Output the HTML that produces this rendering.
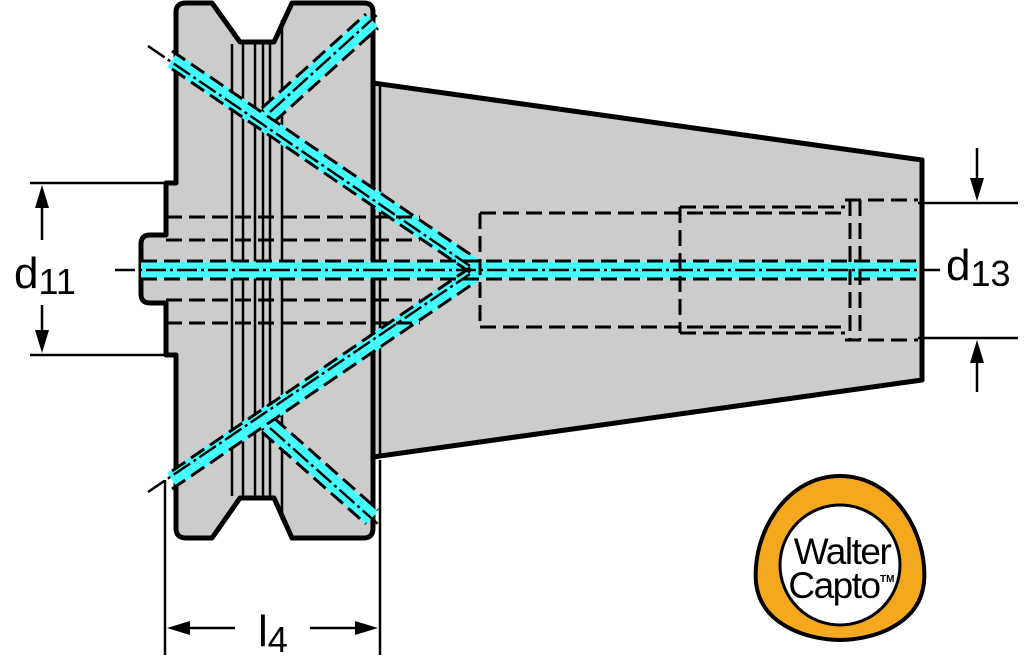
<!DOCTYPE html>
<html><head><style>body{margin:0;background:#fff}svg{display:block}</style></head><body>
<svg width="1024" height="666" viewBox="0 0 1024 666" xmlns="http://www.w3.org/2000/svg" font-family="Liberation Sans, sans-serif">
<path d="M373 83 L922 160 L922 380 L373 457 Z" fill="#cccccc" stroke="#000" stroke-width="5" stroke-linejoin="round"/>
<path d="M186 3 L212 3 L240 42 L274 42 L292 3 L364 3 Q373 3 373 12 L373 528 Q373 538 364 538 L292 538 L274 498 L240 498 L212 538 L186 538 Q176 538 176 528 L176 355 L166 355 L166 303 L150 303 Q141 303 141 294 L141 244 Q141 235 150 235 L166 235 L166 183 L176 183 L176 12 Q176 3 186 3 Z" fill="#cccccc" stroke="#000" stroke-width="5" stroke-linejoin="round"/>
<g stroke="#000" stroke-width="2.5">
<line x1="232" y1="44" x2="232" y2="496"/><line x1="243" y1="44" x2="243" y2="496"/>
<line x1="255" y1="44" x2="255" y2="496"/><line x1="263" y1="44" x2="263" y2="496"/>
<line x1="270" y1="44" x2="270" y2="496"/><line x1="282" y1="20" x2="282" y2="520"/>
<line x1="380" y1="86" x2="380" y2="455"/>
</g>
<g stroke="#44ffff" stroke-width="17" stroke-linecap="butt">
<line x1="172" y1="60" x2="474" y2="266"/><line x1="172" y1="480" x2="474" y2="274"/>
<line x1="268" y1="115" x2="372" y2="20"/><line x1="268" y1="425" x2="372" y2="518"/>
<line x1="141" y1="270" x2="918" y2="270"/>
</g>
<g stroke="#000" stroke-width="3" stroke-dasharray="16 7" fill="none">
<line x1="172" y1="51" x2="474" y2="257"/><line x1="172" y1="69" x2="474" y2="275"/>
<line x1="172" y1="471" x2="474" y2="265"/><line x1="172" y1="489" x2="474" y2="283"/>
<line x1="262" y1="108" x2="366" y2="14"/><line x1="274" y1="122" x2="378" y2="28"/>
<line x1="262" y1="432" x2="366" y2="524"/><line x1="274" y1="418" x2="378" y2="510"/>
<line x1="141" y1="261" x2="918" y2="261"/><line x1="141" y1="279" x2="918" y2="279"/>
<line x1="166" y1="217" x2="420" y2="217"/><line x1="166" y1="240" x2="420" y2="240"/>
<line x1="166" y1="300" x2="420" y2="300"/><line x1="166" y1="323" x2="420" y2="323"/>
<path d="M480 213 L845 213 M480 327 L845 327 M480 213 L480 327 M680 207 L845 207 M680 333 L845 333 M680 207 L680 333 M845 200 L918 200 M845 340 L918 340 M850 200 L850 340 M860 200 L860 340"/>
</g>
<g stroke="#000" stroke-width="2.5" stroke-dasharray="20 4 3 4" fill="none">
<line x1="148" y1="46" x2="470" y2="266"/><line x1="148" y1="492" x2="470" y2="274"/>
<line x1="270" y1="112" x2="378" y2="14"/><line x1="270" y1="428" x2="378" y2="524"/>
<line x1="115" y1="270" x2="940" y2="270"/>
</g>
<g stroke="#000" stroke-width="2.5" fill="none">
<line x1="30" y1="183" x2="166" y2="183"/><line x1="30" y1="355" x2="166" y2="355"/>
<line x1="42" y1="200" x2="42" y2="240"/><line x1="42" y1="305" x2="42" y2="340"/>
<line x1="918" y1="203" x2="1018" y2="203"/><line x1="918" y1="338" x2="1018" y2="338"/>
<line x1="977" y1="148" x2="977" y2="190"/><line x1="977" y1="352" x2="977" y2="392"/>
<line x1="165" y1="480" x2="165" y2="655"/><line x1="380" y1="460" x2="380" y2="655"/>
<line x1="180" y1="628" x2="235" y2="628"/><line x1="310" y1="628" x2="365" y2="628"/>
</g>
<g fill="#000">
<path d="M42 185 L35 208 L49 208 Z"/><path d="M42 353 L35 330 L49 330 Z"/>
<path d="M977 201 L970 178 L984 178 Z"/><path d="M977 340 L970 363 L984 363 Z"/>
<path d="M167 628 L190 621 L190 635 Z"/><path d="M378 628 L355 621 L355 635 Z"/>
</g>
<text x="14" y="288" font-size="44">d<tspan font-size="36" dy="6">11</tspan></text>
<text x="946" y="280" font-size="44">d<tspan font-size="36" dy="6">13</tspan></text>
<text x="258" y="646" font-size="44">l<tspan font-size="36" dy="6">4</tspan></text>
<path d="M840 476 C895 476 928 535 924 582 C920 625 872 640 840 640 C808 640 760 625 756 582 C752 535 785 476 840 476 Z" fill="#f4a81d" stroke="#000" stroke-width="4"/>
<circle cx="840" cy="565" r="60" fill="#fff" stroke="#000" stroke-width="3"/>
<text x="842" y="564" font-size="37" text-anchor="middle" fill="#000" letter-spacing="-1.5">Walter</text>
<text x="834" y="598" font-size="37" text-anchor="middle" fill="#000" letter-spacing="-1.5">Capto</text>
<text x="880" y="582" font-size="10" font-weight="bold">TM</text>
</svg>
</body></html>
